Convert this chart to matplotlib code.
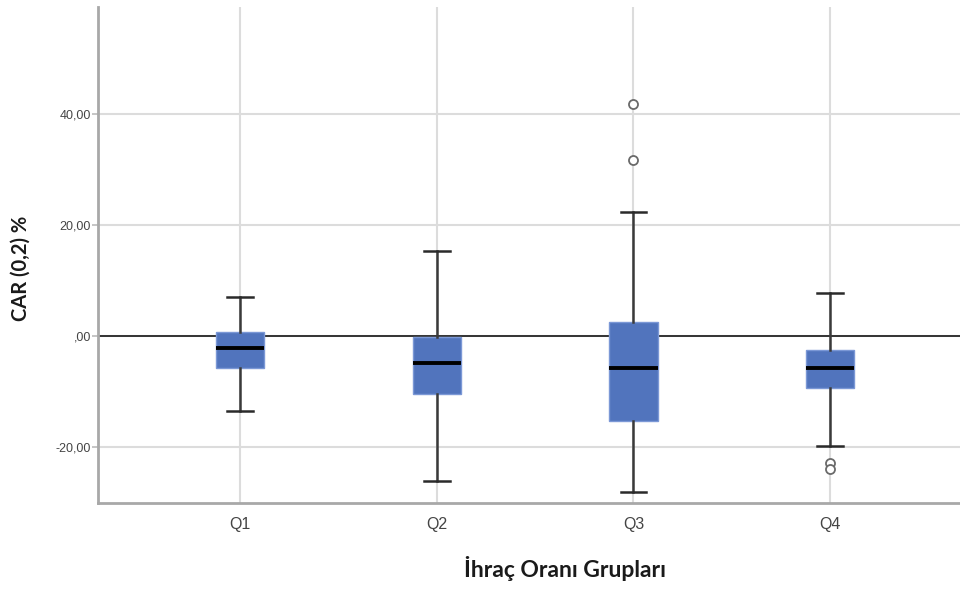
import matplotlib
matplotlib.use("Agg")
import matplotlib.pyplot as plt

# ---- data ----
groups = ["Q1", "Q2", "Q3", "Q4"]
whisker_low = [-13.6, -26.2, -28.2, -19.8]
box_low = [-5.8, -10.5, -15.4, -9.3]
medians = [-2.2, -4.8, -5.7, -5.7]
box_high = [0.8, -0.1, 2.5, -2.5]
whisker_high = [7.0, 15.4, 22.4, 7.7]
outliers = [[], [], [41.8, 31.8], [-22.9, -24.0]]
yticks = [-20, 0, 20, 40]
ytick_labels = ["-20,00", ",00", "20,00", "40,00"]

x_label = "İhraç Oranı Grupları"
y_label = "CAR (0,2) %"

fig = plt.figure(figsize=(9.6, 5.9), dpi=100)
ax = fig.add_axes([98 / 960, 87 / 590, 862 / 960, 496 / 590])

stats = []
for i in range(len(groups)):
    stats.append(dict(med=medians[i], q1=box_low[i], q3=box_high[i],
                      whislo=whisker_low[i], whishi=whisker_high[i],
                      fliers=outliers[i], label=groups[i]))

positions = list(range(len(groups)))

ax.grid(True, color="#dcdcdc", linewidth=1.5, zorder=0)
ax.set_axisbelow(True)
ax.axhline(0, color="#333333", linewidth=1.4, zorder=1)

ax.bxp(stats, positions=positions, widths=0.245, patch_artist=True,
       showfliers=True,
       boxprops=dict(facecolor="#5174bd", edgecolor="#7b98d6", linewidth=1.0),
       medianprops=dict(color="black", linewidth=2.8),
       whiskerprops=dict(color="#3a3a3a", linewidth=1.8),
       capprops=dict(color="#2a2a2a", linewidth=1.8),
       capwidths=0.13,
       flierprops=dict(marker="o", markerfacecolor="white",
                       markeredgecolor="#6a6a6a", markersize=6.5,
                       markeredgewidth=1.3),
       zorder=3)

ax.set_xlim(-0.722, 3.66)
ax.set_ylim(-30.1, 59.3)
ax.set_yticks(yticks)
ax.set_yticklabels(ytick_labels)
ax.set_xticks(positions)
ax.set_xticklabels(groups)

for s in ["top", "right"]:
    ax.spines[s].set_visible(False)
ax.spines["left"].set_color("#a8a8a8")
ax.spines["left"].set_linewidth(2.0)
ax.spines["bottom"].set_color("#a8a8a8")
ax.spines["bottom"].set_linewidth(2.0)

ax.tick_params(axis="y", length=4, width=1.2, color="#bbbbbb",
               labelsize=9, labelcolor="#444444", pad=1,
               labelfontfamily="Liberation Sans")
ax.tick_params(axis="x", length=0, labelsize=11.5, labelcolor="#444444",
               pad=10, labelfontfamily="Liberation Sans")

ax.set_xlabel(x_label, fontsize=16.5, fontweight="bold", family="Lato",
              color="#1a1a1a")
ax.xaxis.set_label_coords(0.542, -0.106)
ax.set_ylabel(y_label, fontsize=14.5, fontweight="bold", family="Lato",
              color="#1a1a1a")
ax.yaxis.set_label_coords(-0.078, 0.474)

fig.savefig("out.png", dpi=100)
